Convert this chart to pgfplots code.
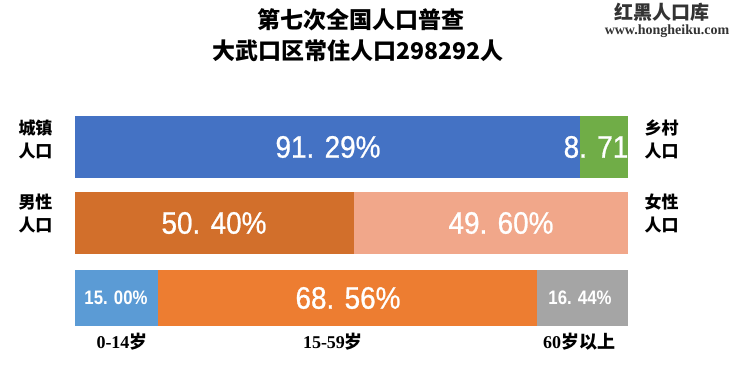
\documentclass[border=0pt]{standalone}
\usepackage{fontspec}
\setmainfont{Liberation Serif}
\newfontfamily\cjk{Noto Sans CJK SC}
\newfontfamily\numf[FakeStretch=0.9, FakeBold=0.8]{Liberation Sans}
\newfontfamily\nums[FakeStretch=0.86, BoldFeatures={FakeStretch=0.86}]{Liberation Sans}
\usepackage{pgfplots}
\pgfplotsset{compat=1.18}
\definecolor{cBlue}{HTML}{4472C4}
\definecolor{cGreen}{HTML}{70AD47}
\definecolor{cDOrange}{HTML}{D26F2B}
\definecolor{cSalmon}{HTML}{F1A78A}
\definecolor{cLBlue}{HTML}{5B9BD5}
\definecolor{cOrange}{HTML}{ED7D31}
\definecolor{cGray}{HTML}{A5A5A5}
\tikzset{big/.style={text=white, inner sep=0pt, font={\numf\fontsize{31pt}{31pt}\selectfont}},
         small/.style={text=white, inner sep=0pt, font={\nums\bfseries\fontsize{19.5pt}{19.5pt}\selectfont}},
         lab/.style={inner sep=0pt, font={\cjk\bfseries\fontsize{17pt}{17pt}\selectfont}},
         age/.style={inner sep=0pt, font={\bfseries\fontsize{18pt}{18pt}\selectfont}}}
\begin{document}
\begin{tikzpicture}[x=1pt,y=1pt]
\path[fill=white] (0,0) rectangle (740,374);
\begin{axis}[at={(75pt,0pt)}, anchor=south west, scale only axis,
  width=553pt, height=374pt, xmin=0, xmax=100, ymin=0, ymax=374,
  hide axis, xbar stacked, clip=false]
\addplot[fill=cBlue, draw=none, bar width=62pt] coordinates {(91.29,227) (0,151) (0,76)};
\addplot[fill=cGreen, draw=none, bar width=62pt] coordinates {(8.71,227) (0,151) (0,76)};
\addplot[fill=cDOrange, draw=none, bar width=62pt] coordinates {(0,227) (50.40,151) (0,76)};
\addplot[fill=cSalmon, draw=none, bar width=62pt] coordinates {(0,227) (49.60,151) (0,76)};
\addplot[fill=cLBlue, draw=none, bar width=56pt] coordinates {(0,227) (0,151) (15.00,76)};
\addplot[fill=cOrange, draw=none, bar width=56pt] coordinates {(0,227) (0,151) (68.56,76)};
\addplot[fill=cGray, draw=none, bar width=56pt] coordinates {(0,227) (0,151) (16.44,76)};
\end{axis}
\node[big] at (328,227) {91. 29\%};
\node[big] at (596,227) {8. 71};
\node[big] at (214,151) {50. 40\%};
\node[big] at (501,151) {49. 60\%};
\node[small] at (116,76) {15. 00\%};
\node[big] at (348,76) {68. 56\%};
\node[small] at (580,76) {16. 44\%};
\node[lab] at (35.5,246) {城镇};
\node[lab] at (35.5,223) {人口};
\node[lab] at (35.5,171.5) {男性};
\node[lab] at (35.5,148.5) {人口};
\node[lab] at (661.5,246) {乡村};
\node[lab] at (661.5,223) {人口};
\node[lab] at (661.5,171.5) {女性};
\node[lab] at (661.5,148.5) {人口};
\node[age] at (122,32) {0-14{\cjk 岁}};
\node[age] at (333,32) {15-59{\cjk 岁}};
\node[age] at (579,32) {60{\cjk 岁以上}};
\node[inner sep=0pt, font={\cjk\bfseries\fontsize{23pt}{23pt}\selectfont}] at (361,354) {第七次全国人口普查};
\node[inner sep=0pt, font={\cjk\bfseries\fontsize{23pt}{23pt}\selectfont}] at (358,323) {大武口区常住人口298292人};
\node[inner sep=0pt, text=black!80, font={\cjk\bfseries\fontsize{19pt}{19pt}\selectfont}] at (662,362) {红黑人口库};
\node[inner sep=0pt, text=black!80, font={\bfseries\fontsize{14pt}{14pt}\selectfont}] at (667,343) {www.hongheiku.com};
\end{tikzpicture}
\end{document}
